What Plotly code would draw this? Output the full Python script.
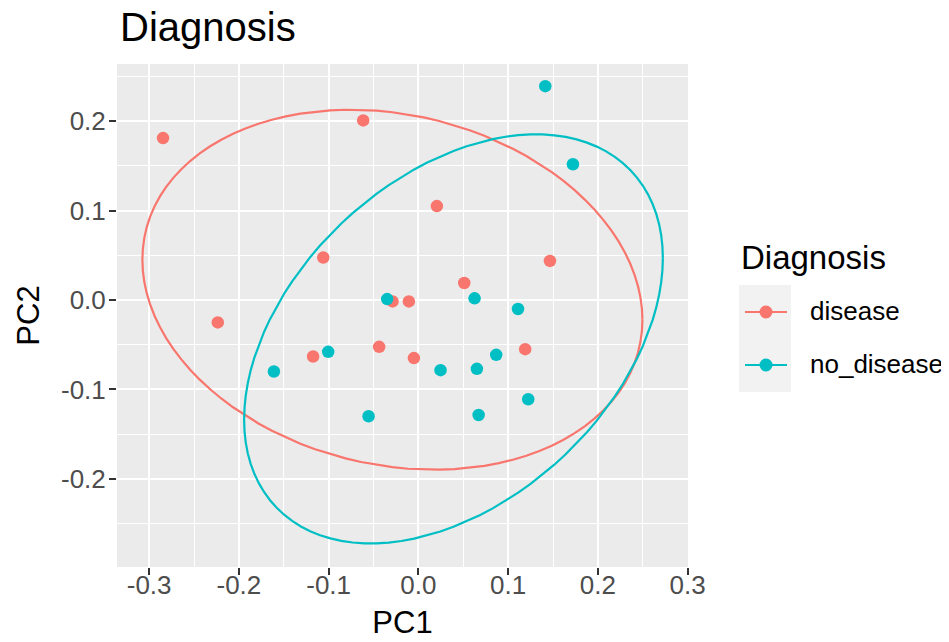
import numpy as np
import plotly.graph_objects as go

# PCA scores
disease_pc1 = [-0.2845, -0.0615, -0.106, -0.0288, -0.0106, 0.0206, 0.1466,
               0.0511, -0.2235, -0.1173, -0.0437, -0.005, 0.119]
disease_pc2 = [0.181, 0.2007, 0.0474, -0.0016, -0.0016, 0.105, 0.0437,
               0.019, -0.0251, -0.0632, -0.0524, -0.065, -0.055]
no_disease_pc1 = [-0.0348, 0.1414, 0.1722, 0.0626, 0.111, -0.161, -0.1005,
                  -0.0555, 0.0247, 0.0652, 0.0867, 0.1224, 0.0671]
no_disease_pc2 = [0.001, 0.239, 0.1517, 0.0018, -0.0101, -0.080, -0.058,
                  -0.130, -0.0785, -0.077, -0.0613, -0.111, -0.1286]

groups = ['disease', 'no_disease']
colors = ['#F8766D', '#00BFC4']
x_ticks = [-0.3, -0.2, -0.1, 0.0, 0.1, 0.2, 0.3]
y_ticks = [-0.2, -0.1, 0.0, 0.1, 0.2]


def cov_trob(x, nu=5, maxit=25, tol=0.01):
    # port of MASS::cov.trob, as used by ggplot2::stat_ellipse
    n, p = x.shape
    loc = x.mean(axis=0)
    w = np.ones(n)
    for _ in range(maxit):
        w0 = w
        X = x - loc
        _, d, vt = np.linalg.svd(np.sqrt(w / w.sum())[:, None] * X, full_matrices=False)
        wX = X @ vt.T @ np.diag(1 / d)
        Q = (wX ** 2).sum(axis=1)
        w = (nu + p) / (nu + Q)
        loc = (w[:, None] * x).sum(axis=0) / w.sum()
        if np.all(np.abs(w - w0) < tol):
            break
    X = x - loc
    cov = (np.sqrt(w)[:, None] * X).T @ (np.sqrt(w)[:, None] * X) / n
    return loc, cov


def ellipse(xs, ys, level=0.95, segments=100):
    data = np.column_stack([xs, ys])
    center, shape = cov_trob(data)
    dfd = len(xs) - 1
    # qf(level, 2, dfd) has a closed form for 2 numerator df
    f = dfd / 2 * ((1 - level) ** (-2 / dfd) - 1)
    radius = np.sqrt(2 * f)
    chol = np.linalg.cholesky(shape).T
    ang = np.arange(segments + 1) * 2 * np.pi / segments
    circle = np.column_stack([np.cos(ang), np.sin(ang)])
    pts = center + radius * circle @ chol
    return pts[:, 0], pts[:, 1]


fig = go.Figure()
series = [(disease_pc1, disease_pc2), (no_disease_pc1, no_disease_pc2)]
for name, color, (px, py) in zip(groups, colors, series):
    ex, ey = ellipse(px, py)
    fig.add_trace(go.Scatter(x=ex, y=ey, mode='lines', line=dict(color=color, width=2.2),
                             showlegend=False, hoverinfo='skip'))
    fig.add_trace(go.Scatter(x=px, y=py, mode='markers', marker=dict(color=color, size=12.5),
                             name=name, showlegend=False))

# figure is 8px smaller than the window because of the page body margin
W, H = 941, 634
L, R, T, B = 109, 261, 56, 75
pw, ph = W - L - R, H - T - B


def pxx(v):
    return (v - L) / pw


def pxy(v):
    return (H - B - v) / ph


# hand-drawn ggplot-style legend (plotly's own legend squeezes the panel)
shapes = [dict(type='rect', xref='paper', yref='paper', x0=pxx(731), x1=pxx(783),
               y0=pxy(384), y1=pxy(277), fillcolor='#F2F2F2', line=dict(width=0), layer='below')]
annotations = [dict(text='Diagnosis', xref='paper', yref='paper', x=pxx(731), y=pxy(249),
                    xanchor='left', yanchor='middle', showarrow=False,
                    font=dict(size=33, color='black'))]
for i, (name, color) in enumerate(zip(groups, colors)):
    ky = 304 + i * 53
    shapes.append(dict(type='line', xref='paper', yref='paper', x0=pxx(737), x1=pxx(779),
                       y0=pxy(ky), y1=pxy(ky), line=dict(color=color, width=2.2)))
    shapes.append(dict(type='circle', xref='paper', yref='paper', xsizemode='pixel',
                       ysizemode='pixel', xanchor=pxx(758), yanchor=pxy(ky),
                       x0=-6.5, x1=6.5, y0=-6.5, y1=6.5, fillcolor=color, line=dict(width=0)))
    annotations.append(dict(text=name, xref='paper', yref='paper', x=pxx(800), y=pxy(ky - 1),
                            xanchor='left', yanchor='middle', showarrow=False,
                            font=dict(size=26, color='black')))

font = 'Liberation Sans, Arial, Helvetica, sans-serif'
axis_common = dict(
    showgrid=True, gridcolor='white', gridwidth=1.6, zeroline=False, automargin=False,
    ticks='outside', ticklen=7, tickwidth=1.5, tickcolor='#333333',
    tickfont=dict(size=26, color='#4D4D4D'), showline=False,
    minor=dict(showgrid=True, gridcolor='white', gridwidth=0.8, dtick=0.05, tick0=0),
)

fig.update_layout(
    width=W, height=H,
    margin=dict(l=L, r=R, t=T, b=B),
    paper_bgcolor='white', plot_bgcolor='#EBEBEB',
    font=dict(family=font, color='black'),
    showlegend=False,
    title=dict(text='Diagnosis', x=112 / W, xref='container', xanchor='left',
               y=1, yref='container', yanchor='top', pad=dict(t=5),
               font=dict(size=40, color='black')),
    xaxis=dict(axis_common, range=[-0.3358, 0.3004], tickvals=x_ticks,
               ticktext=['%.1f' % v for v in x_ticks], ticklabelstandoff=-12,
               title=dict(text='PC1', font=dict(size=31), standoff=12)),
    yaxis=dict(axis_common, range=[-0.2985, 0.2638], tickvals=y_ticks,
               ticktext=['%.1f' % v for v in y_ticks], ticklabelstandoff=-2,
               title=dict(text='PC2', font=dict(size=31), standoff=12)),
    shapes=shapes,
    annotations=annotations,
)

fig.write_html('out.html')
